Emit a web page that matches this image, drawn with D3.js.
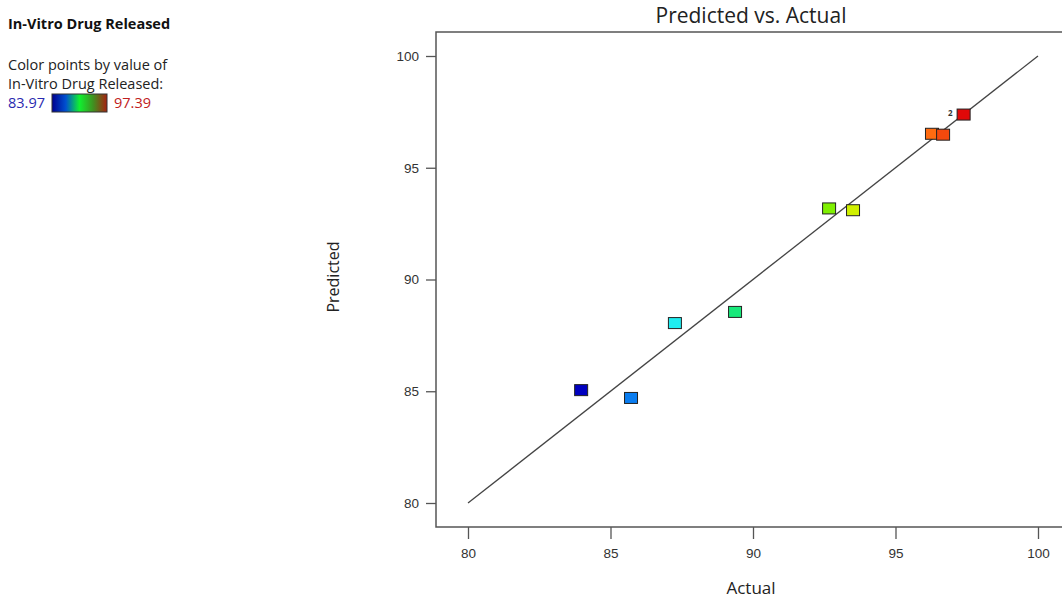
<!DOCTYPE html>
<html>
<head>
<meta charset="utf-8">
<script src="https://cdn.jsdelivr.net/npm/d3@7"></script>
<style>
  body { margin: 0; background: #fff; }
  svg { display: block; font-family: "Open Sans", "Noto Sans", sans-serif; }
</style>
</head>
<body>
<svg id="chart" width="1062" height="598"></svg>
<script>
// data
const actual    = [83.97, 85.72, 87.26, 89.37, 92.67, 93.51, 96.28, 96.67, 97.39];
const predicted = [85.05, 84.70, 88.05, 88.55, 93.18, 93.10, 96.52, 96.48, 97.38];
const xTicks = [80, 85, 90, 95, 100];
const yTicks = [80, 85, 90, 95, 100];
const colorStops  = [83.97, 85.7, 87.3, 89.4, 92.7, 93.5, 96.3, 97.39];
const colorValues = ["#0000c0", "#0a7cf0", "#20f0f0", "#18e878", "#80f000", "#d0f000", "#ff6a10", "#e00808"];
const legendMin = "83.97", legendMax = "97.39";

const svg = d3.select("#chart");

// scales
const x = d3.scaleLinear().domain([80, 100]).range([468, 1038]);
const y = d3.scaleLinear().domain([80, 100]).range([503, 56]);
const color = d3.scaleLinear().domain(colorStops).range(colorValues).clamp(true);

const frameLeft = 436, frameTop = 32, frameBottom = 527, frameRight = 1062;

// axes
svg.append("g")
  .attr("transform", "translate(0," + frameBottom + ")")
  .call(d3.axisBottom(x).tickValues(xTicks).tickSize(12).tickPadding(9).tickFormat(d3.format("d")))
  .call(g => g.select(".domain").remove())
  .call(g => g.selectAll("line").attr("stroke", "#555").attr("stroke-width", 1.3))
  .call(g => g.selectAll("text").attr("fill", "#333").style("font-size", "13.5px"));

svg.append("g")
  .attr("transform", "translate(" + frameLeft + ",0)")
  .call(d3.axisLeft(y).tickValues(yTicks).tickSize(10).tickPadding(7).tickFormat(d3.format("d")))
  .call(g => g.select(".domain").remove())
  .call(g => g.selectAll("line").attr("stroke", "#555").attr("stroke-width", 1.3))
  .call(g => g.selectAll("text").attr("fill", "#333").style("font-size", "13.5px"));

// frame
svg.append("path")
  .attr("d", "M" + frameRight + "," + frameTop + "H" + frameLeft + "V" + frameBottom + "H" + frameRight)
  .attr("fill", "none")
  .attr("stroke", "#555")
  .attr("stroke-width", 1.5);

// reference line
svg.append("line")
  .attr("x1", x(80)).attr("y1", y(80))
  .attr("x2", x(100)).attr("y2", y(100))
  .attr("stroke", "#444")
  .attr("stroke-width", 1.3);

// points
const pts = actual.map((a, i) => ({ a: a, p: predicted[i] }));
svg.selectAll("rect.pt")
  .data(pts)
  .enter()
  .append("rect")
  .attr("class", "pt")
  .attr("x", d => x(d.a) - 6.5)
  .attr("y", d => y(d.p) - 5.5)
  .attr("width", 13)
  .attr("height", 11)
  .attr("fill", d => color(d.a))
  .attr("stroke", "#222")
  .attr("stroke-width", 1);

// small count label next to the highest point
svg.append("text")
  .attr("x", x(actual[8]) - 11)
  .attr("y", y(predicted[8]) + 1)
  .attr("text-anchor", "end")
  .style("font-size", "8px")
  .style("font-weight", "bold")
  .attr("fill", "#333")
  .text("2");

// titles
svg.append("text")
  .attr("x", 751).attr("y", 23)
  .attr("text-anchor", "middle")
  .style("font-size", "21px")
  .attr("fill", "#222")
  .text("Predicted vs. Actual");

svg.append("text")
  .attr("x", 751).attr("y", 594)
  .attr("text-anchor", "middle")
  .style("font-size", "17px")
  .attr("fill", "#222")
  .text("Actual");

svg.append("text")
  .attr("transform", "translate(339,277) rotate(-90)")
  .attr("text-anchor", "middle")
  .style("font-size", "16px")
  .attr("fill", "#222")
  .text("Predicted");

// legend
svg.append("text")
  .attr("x", 8).attr("y", 29)
  .style("font-size", "14.5px")
  .style("font-weight", "bold")
  .attr("fill", "#111")
  .text("In-Vitro Drug Released");

svg.append("text")
  .attr("x", 8).attr("y", 70)
  .style("font-size", "14.5px")
  .attr("fill", "#222")
  .text("Color points by value of");

svg.append("text")
  .attr("x", 8).attr("y", 89)
  .style("font-size", "14.5px")
  .attr("fill", "#222")
  .text("In-Vitro Drug Released:");

const grad = svg.append("defs").append("linearGradient").attr("id", "lg");
grad.selectAll("stop")
  .data([["0%", "#000090"], ["25%", "#0050d0"], ["50%", "#10f030"], ["75%", "#409020"], ["100%", "#a82010"]])
  .enter()
  .append("stop")
  .attr("offset", d => d[0])
  .attr("stop-color", d => d[1]);

svg.append("rect")
  .attr("x", 52).attr("y", 94)
  .attr("width", 55).attr("height", 18)
  .attr("fill", "url(#lg)")
  .attr("stroke", "#333")
  .attr("stroke-width", 1);

svg.append("text")
  .attr("x", 8).attr("y", 108)
  .style("font-size", "14.5px")
  .attr("fill", "#2a2ab0")
  .text(legendMin);

svg.append("text")
  .attr("x", 114).attr("y", 108)
  .style("font-size", "14.5px")
  .attr("fill", "#c02020")
  .text(legendMax);
</script>
</body>
</html>
